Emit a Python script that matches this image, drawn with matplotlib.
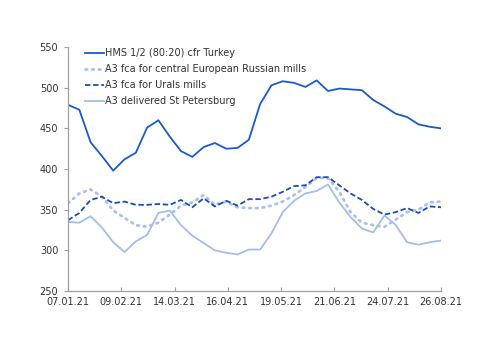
import matplotlib
matplotlib.use("Agg")
import matplotlib.pyplot as plt
import pandas as pd

dates = pd.date_range("2021-01-07", periods=34, freq="7D")

hms_turkey = [479, 473, 433, 416, 398, 412, 420, 451, 460, 440, 422, 415, 427, 432, 425, 426, 436,
              480, 503, 508, 506, 501, 509, 496, 499, 498, 497, 485, 477, 468, 464, 455, 452, 450]
a3_central = [358, 370, 375, 366, 349, 340, 331, 329, 334, 344, 355, 359, 368, 356, 360, 353, 352,
              352, 355, 360, 368, 378, 389, 389, 372, 347, 334, 331, 329, 338, 347, 350, 359, 360]
a3_urals = [337, 346, 362, 366, 358, 360, 356, 356, 357, 356, 362, 353, 364, 354, 361, 355, 363,
            363, 366, 372, 379, 380, 390, 390, 380, 370, 362, 351, 344, 347, 352, 346, 354, 353]
a3_stpete = [335, 334, 342, 328, 310, 298, 311, 319, 346, 349, 331, 318, 309, 300, 297, 295, 301,
             301, 321, 347, 361, 370, 373, 381, 359, 341, 327, 322, 343, 331, 310, 307, 310, 312]

labels = ["HMS 1/2 (80:20) cfr Turkey", "A3 fca for central European Russian mills",
          "A3 fca for Urals mills", "A3 delivered St Petersburg"]
tick_dates = pd.date_range("2021-01-07", periods=8, freq="33D")
yticks = [250, 300, 350, 400, 450, 500, 550]

plt.rcParams['font.family'] = ['DejaVu Sans']
fig = plt.figure(figsize=(5.0, 3.53), dpi=100)
ax = fig.add_axes([0.136, 0.1756, 0.746, 0.691])

ax.plot(dates, hms_turkey, color='#1a5acd', lw=1.3, label=labels[0])
ax.plot(dates, a3_central, color='#a8c0ee', lw=2.0, linestyle=(0, (0.6, 1.8)),
        dash_capstyle='round', label=labels[1])
ax.plot(dates, a3_urals, color='#1a4bbf', lw=1.3, linestyle=(0, (3, 1.5)), label=labels[2])
ax.plot(dates, a3_stpete, color='#a4bdea', lw=1.3, label=labels[3])

ax.set_xlim(dates[0], dates[-1])
ax.set_ylim(250, 550)
ax.set_yticks(yticks)
ax.set_xticks(tick_dates)
ax.set_xticklabels([d.strftime("%d.%m.%y") for d in tick_dates])

for s in ['top', 'right']:
    ax.spines[s].set_visible(False)
for s in ['left', 'bottom']:
    ax.spines[s].set_color('#a0a0a0')
    ax.spines[s].set_linewidth(0.9)
ax.tick_params(axis='y', direction='out', length=3, color='#a0a0a0', labelsize=7,
               labelcolor='#333333', pad=4)
ax.tick_params(axis='x', direction='in', length=3, color='#a0a0a0', labelsize=7,
               labelcolor='#333333', pad=4)

leg = ax.legend(loc='upper left', bbox_to_anchor=(0.035, 1.012), frameon=False, fontsize=7,
                handlelength=2.0, handletextpad=0.1, labelspacing=0.62, borderaxespad=0)
for t in leg.get_texts():
    t.set_color('#333333')

fig.savefig("out.png", dpi=100)
